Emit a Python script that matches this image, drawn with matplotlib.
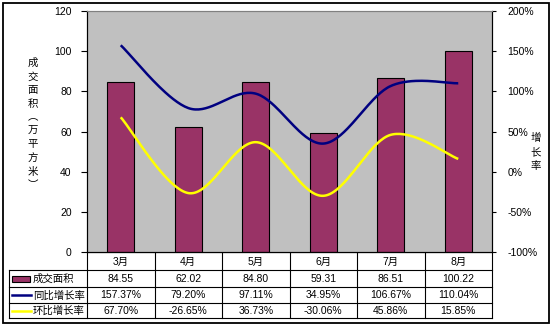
import numpy as np
import matplotlib
matplotlib.use('Agg')
import matplotlib.pyplot as plt
from matplotlib.transforms import blended_transform_factory
from matplotlib.patches import Rectangle
from matplotlib.lines import Line2D

plt.rcParams['font.family'] = ['Liberation Sans', 'Noto Sans CJK SC']

months = ['3月', '4月', '5月', '6月', '7月', '8月']
area = [84.55, 62.02, 84.80, 59.31, 86.51, 100.22]
yoy = [157.37, 79.20, 97.11, 34.95, 106.67, 110.04]
mom = [67.70, -26.65, 36.73, -30.06, 45.86, 15.85]
series_names = ['成交面积', '同比增长率', '环比增长率']
left_label = '成交面积︵万平方米︶'
right_label = '增长率'

BAR_COLOR = '#993366'
YOY_COLOR = '#000080'
MOM_COLOR = '#FFFF00'

W, H = 553, 327
fig = plt.figure(figsize=(W / 100, H / 100), dpi=100)


def box(x0, y0, x1, y1):
    """Pixel box (top-left origin) -> figure fraction rect."""
    return [x0 / W, 1 - y1 / H, (x1 - x0) / W, (y1 - y0) / H]


def smooth(xs, ys, n=40):
    """Bezier smoothing through the points (Catmull-Rom style control points)."""
    pts = np.column_stack([xs, ys]).astype(float)
    P = np.vstack([pts[0], pts, pts[-1]])
    t = np.linspace(0, 1, n)[:, None]
    out = []
    for i in range(1, len(P) - 2):
        p0, p1, p2, p3 = P[i - 1], P[i], P[i + 1], P[i + 2]
        c1 = p1 + (p2 - p0) / 6
        c2 = p2 - (p3 - p1) / 6
        seg = ((1 - t) ** 3) * p1 + 3 * (1 - t) ** 2 * t * c1 + 3 * (1 - t) * t ** 2 * c2 + t ** 3 * p2
        out.append(seg if i == 1 else seg[1:])
    s = np.vstack(out)
    return s[:, 0], s[:, 1]


PL, PT, PR, PB = 87, 11, 492, 252
ax = fig.add_axes(box(PL, PT, PR, PB))
ax.set_facecolor('#C0C0C0')
x = np.arange(len(months))
ax.bar(x, area, width=0.4, color=BAR_COLOR, edgecolor='black', linewidth=0.8, zorder=2)
ax.set_xlim(-0.5, len(months) - 0.5)
ax.set_ylim(0, 120)
ax.set_yticks(range(0, 121, 20))
ax.set_xticks([])
ax.tick_params(axis='y', direction='out', length=4, width=0.8, labelsize=7.5, pad=7)
ax.spines['top'].set_color('#808080')
for side in ['left', 'bottom', 'right']:
    ax.spines[side].set_color('black')
    ax.spines[side].set_linewidth(0.8)

ax2 = ax.twinx()
ax2.set_ylim(-100, 200)
ax2.set_yticks(range(-100, 201, 50))
ax2.set_yticklabels([f'{v}%' for v in range(-100, 201, 50)])
ax2.tick_params(axis='y', direction='out', length=3, width=0.8, labelsize=7.5, pad=8)
ax2.spines['top'].set_color('#808080')
ax2.spines['right'].set_color('black')
ax2.spines['right'].set_linewidth(0.8)
sx, sy = smooth(x, yoy)
ax2.plot(sx, sy, color=YOY_COLOR, lw=1.8, solid_capstyle='butt', zorder=3)
sx, sy = smooth(x, mom)
ax2.plot(sx, sy, color=MOM_COLOR, lw=1.8, solid_capstyle='butt', zorder=3)

# overlay in pixel coordinates for the data table, axis titles and frame
ov = fig.add_axes([0, 0, 1, 1], zorder=-1)
ov.set_xlim(0, W)
ov.set_ylim(H, 0)
ov.axis('off')

ov.add_patch(Rectangle((3, 3), 546, 320, fill=False, edgecolor='black', lw=1.3))

rows_y = [252, 270, 287, 303, 318]
col_w = (PR - PL) / len(months)
lw = 0.8
# horizontal table rules
ov.add_line(Line2D([PL, PR], [rows_y[0], rows_y[0]], color='black', lw=lw))
for yy in rows_y[1:]:
    ov.add_line(Line2D([9, PR], [yy, yy], color='black', lw=lw))
# vertical table rules
ov.add_line(Line2D([9, 9], [rows_y[1], rows_y[-1]], color='black', lw=lw))
for i in range(len(months) + 1):
    xx = PL + i * col_w
    ov.add_line(Line2D([xx, xx], [rows_y[0], rows_y[-1]], color='black', lw=lw))

tr = blended_transform_factory(ax.transData, ov.transData)
fs = 7.5
row_vals = [
    [f'{v:.2f}' for v in area],
    [f'{v:.2f}%' for v in yoy],
    [f'{v:.2f}%' for v in mom],
]
for i, m in enumerate(months):
    ov.text(i, (rows_y[0] + rows_y[1]) / 2 + 0.5, m, transform=tr, ha='center', va='center', fontsize=fs)
    for r in range(3):
        yc = (rows_y[r + 1] + rows_y[r + 2]) / 2 + 0.5
        ov.text(i, yc, row_vals[r][i], transform=tr, ha='center', va='center', fontsize=fs)

# legend keys in the table's first column
y1 = (rows_y[1] + rows_y[2]) / 2
ov.add_patch(Rectangle((12, y1 - 3), 18, 6, facecolor=BAR_COLOR, edgecolor='black', lw=0.8))
y2 = (rows_y[2] + rows_y[3]) / 2
ov.add_line(Line2D([12, 31], [y2, y2], color=YOY_COLOR, lw=1.8))
y3 = (rows_y[3] + rows_y[4]) / 2
ov.add_line(Line2D([12, 31], [y3, y3], color=MOM_COLOR, lw=1.8))
for yc, name in zip([y1, y2, y3], series_names):
    ov.text(33, yc + 0.5, name, ha='left', va='center', fontsize=fs)

# vertical axis titles
ov.text(33, 124, '\n'.join(left_label), ha='center', va='center', fontsize=fs, linespacing=1.45)
ov.text(536, 152, '\n'.join(right_label), ha='center', va='center', fontsize=fs, linespacing=1.45)

fig.savefig('out.png', dpi=100)
